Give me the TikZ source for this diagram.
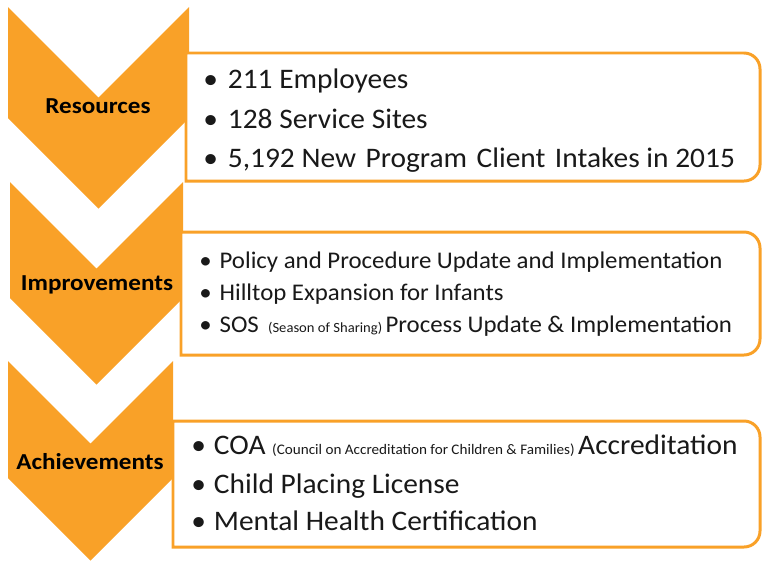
\documentclass[tikz,border=0pt]{standalone}
\usepackage{fontspec}
\setmainfont{Carlito}[FakeStretch=1.04]
\newfontfamily\chevfont{Carlito}[FakeStretch=1.1]
\usepackage{xcolor}
\usepackage{tikz}

\definecolor{chevorange}{RGB}{249,161,40}
\definecolor{itemtext}{RGB}{25,25,25}

\begin{document}
\begin{tikzpicture}[x=0.02cm, y=-0.02cm,
        chevlabel/.style={anchor=base, inner sep=0pt, text=black,
            font=\chevfont\fontsize{13}{15}\selectfont\bfseries},
        listbox/.style={draw=chevorange, line width=1.7pt, fill=white},
        bigitem/.style={anchor=base west, inner sep=0pt, text=itemtext,
            font=\fontsize{16.1}{19}\selectfont},
        smallitem/.style={bigitem, font=\fontsize{13.6}{16}\selectfont}]
    \useasboundingbox (0,0) rectangle (763,562);

    % chevrons down the left side
    \fill[chevorange] (8,7) -- (98.5,97.5) -- (189,7) -- (189,118)
        -- (98.5,208.5) -- (8,118) -- cycle;
    \fill[chevorange] (10,182) -- (96.5,268.5) -- (183,182) -- (183,298)
        -- (96.5,384.5) -- (10,298) -- cycle;
    \fill[chevorange] (8,361) -- (90.5,443.5) -- (173,361) -- (173,478)
        -- (90.5,560.5) -- (8,478) -- cycle;

    \node[chevlabel] (res) at (98,113) {Resources};
    \node[chevlabel] (imp) at (97,290) {Improvements};
    \node[chevlabel] (ach) at (90,469) {Achievements};

    % boxes, rounded on the right only
    \draw[listbox] (186,53) -- (744,53) arc[start angle=-90, end angle=0, radius=16]
        -- (760,165) arc[start angle=0, end angle=90, radius=16] -- (186,181) -- cycle;
    \draw[listbox] (181,232) -- (744,232) arc[start angle=-90, end angle=0, radius=16]
        -- (760,339) arc[start angle=0, end angle=90, radius=16] -- (181,355) -- cycle;
    \draw[listbox] (173,421) -- (744,421) arc[start angle=-90, end angle=0, radius=16]
        -- (760,531) arc[start angle=0, end angle=90, radius=16] -- (173,547) -- cycle;

    \node[bigitem] (res1) at (203,88) {\textbullet\hspace{0.35em}211 Employees};
    \node[bigitem] (res2) at (203,128) {\textbullet\hspace{0.35em}128 Service Sites};
    \node[bigitem] (res3) at (203,167) {\textbullet\hspace{0.35em}5,192 New\hspace{0.1em} Program\hspace{0.1em} Client\hspace{0.1em} Intakes in 2015};

    \node[smallitem] (imp1) at (199,268.5) {\textbullet\hspace{0.33em}Policy and Procedure Update and Implementation};
    \node[smallitem] (imp2) at (199,300.5) {\textbullet\hspace{0.33em}Hilltop Expansion for Infants};
    \node[smallitem] (imp3) at (199,332.5) {\textbullet\hspace{0.33em}SOS\hspace{0.15em} {\fontsize{8}{9}\selectfont(Season of Sharing) }Process Update \& Implementation};

    \node[bigitem] (ach1) at (191,454) {\textbullet\hspace{0.28em}COA {\fontsize{8.3}{9}\selectfont(Council on Accreditation for Children \& Families) }Accreditation};
    \node[bigitem] (ach2) at (191,493) {\textbullet\hspace{0.28em}Child Placing License};
    \node[bigitem] (ach3) at (191,530) {\textbullet\hspace{0.28em}Mental Health Certification};
\end{tikzpicture}
\end{document}
